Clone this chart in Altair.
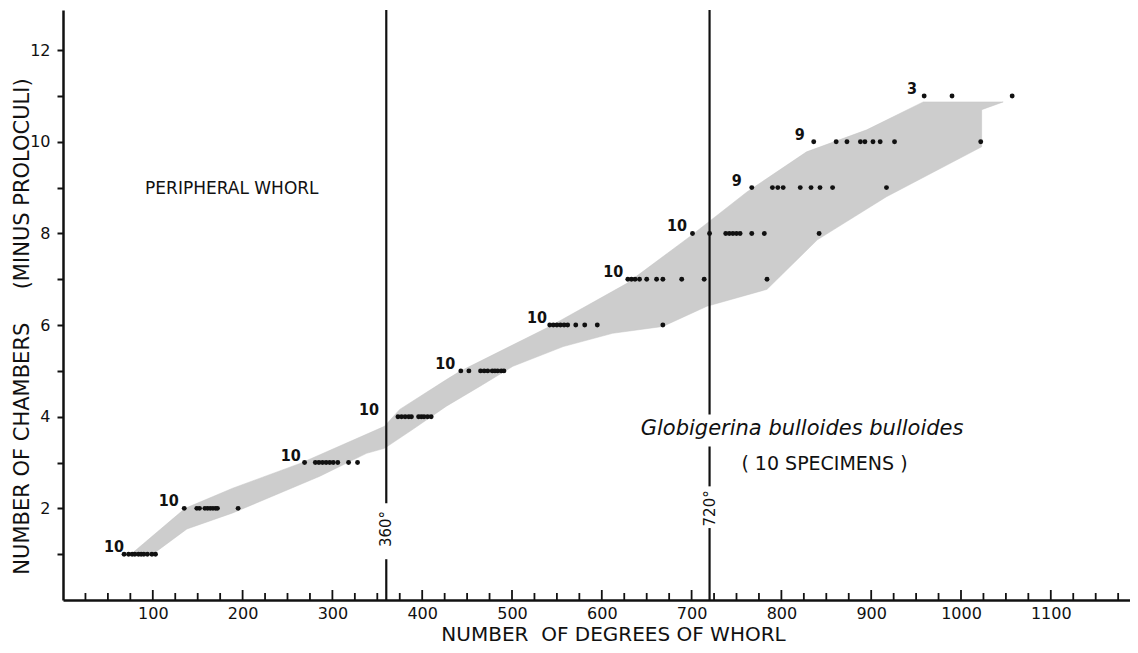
import altair as alt
import pandas as pd

# ---------------- data ----------------
chambers = [1, 2, 3, 4, 5, 6, 7, 8, 9, 10, 11]
row_degrees = [
    [68, 73, 77, 80, 84, 87, 90, 94, 99, 103],
    [135, 149, 152, 158, 161, 164, 167, 170, 172, 195],
    [269, 281, 285, 289, 293, 297, 301, 306, 318, 328],
    [373, 377, 381, 385, 388, 396, 399, 402, 406, 410],
    [443, 452, 465, 469, 473, 478, 481, 484, 488, 491],
    [542, 546, 550, 554, 558, 562, 571, 581, 595, 668],
    [629, 633, 637, 642, 650, 661, 668, 689, 714, 784],
    [701, 720, 738, 742, 746, 750, 754, 767, 781, 842],
    [767, 790, 796, 802, 821, 833, 843, 857, 917],
    [836, 861, 873, 888, 893, 902, 910, 926, 1022],
    [959, 990, 1057],
]
label_counts = ["10", "10", "10", "10", "10", "10", "10", "10", "9", "9", "3"]
label_degree = [69, 130, 266, 353, 438, 540, 625, 696, 757, 827, 952]

band_degree = [77, 136, 189, 264, 358, 375, 427, 442, 542, 628, 698, 762, 828, 895,
               958, 1047, 1023, 1023,
               917, 840, 784, 717, 668, 612, 557, 501, 464, 427, 390, 358, 338, 286,
               189, 138, 100]
band_chambers = [1.02, 2.00, 2.44, 2.98, 3.79, 4.16, 4.81, 4.99, 5.97, 6.91, 7.93, 8.91, 9.78, 10.26,
                 10.87, 10.87, 10.70, 9.89,
                 8.80, 7.86, 6.78, 6.41, 5.97, 5.82, 5.53, 5.10, 4.66, 4.23, 3.73, 3.31, 3.20, 2.70,
                 1.90, 1.55, 1.00]

whorl_line_degree = [360, 360, 720, 720, 720]
whorl_line_from = [0, 2.11, 0, 2.48, 4.05]
whorl_line_to = [0.89, 12.876, 1.57, 3.35, 12.876]
whorl_label_text = ["360°", "720°"]
whorl_label_degree = [360, 720]
whorl_label_chambers = [1.55, 2.0]

x_label_values = [100, 200, 300, 400, 500, 600, 700, 800, 900, 1000, 1100]
x_minor_ticks = [v for v in range(25, 1200, 25) if v % 100 != 0]
x_major_ticks = [v for v in range(100, 1200, 100)]
y_tick_values = [1, 2, 3, 4, 5, 6, 7, 8, 9, 10, 11, 12]

# ---------------- tables ----------------
pts = pd.DataFrame(
    [{"deg": d, "n": n} for n, ds in zip(chambers, row_degrees) for d in ds]
)
labels = pd.DataFrame({"deg": label_degree, "n": chambers, "t": label_counts})
band = pd.DataFrame({"deg": band_degree, "n": band_chambers, "i": list(range(len(band_degree)))})
vlines = pd.DataFrame({"deg": whorl_line_degree, "n": whorl_line_from, "n2": whorl_line_to})
vlabels = pd.DataFrame({"deg": whorl_label_degree, "n": whorl_label_chambers, "t": whorl_label_text})
minor = pd.DataFrame({"deg": x_minor_ticks})
major = pd.DataFrame({"deg": x_major_ticks})

FONT = "DejaVu Sans"
COND = "'DejaVu Sans Condensed', 'Liberation Sans', sans-serif"
INK = "#111111"
PLOT_H = 590

xscale = alt.Scale(domain=[0, 1188.2], nice=False, zero=False)
yscale = alt.Scale(domain=[0, 12.876], nice=False, zero=False)

x_enc = alt.X(
    "deg:Q", scale=xscale,
    axis=alt.Axis(
        values=x_label_values, format="d", ticks=True, tickSize=0, grid=False,
        domainColor=INK, domainWidth=2.5, labelColor=INK, labelFont=FONT,
        labelFontSize=16, labelPadding=5,
        title="NUMBER\u00a0 OF DEGREES OF WHORL", titleFont=FONT, titleFontSize=20,
        titleFontWeight="normal", titleColor=INK, titleX=550, titleY=40.3,
        titleBaseline="alphabetic", titleAlign="center",
    ),
)
y_enc = alt.Y(
    "n:Q", scale=yscale,
    axis=alt.Axis(
        values=y_tick_values, labelExpr="datum.value % 2 === 0 ? datum.label : ''",
        tickSize=6, tickWidth=2, tickColor=INK, grid=False,
        domainColor=INK, domainWidth=2.5, labelColor=INK, labelFont=FONT,
        labelFontSize=16, labelPadding=7,
        title="NUMBER OF CHAMBERS" + "\u00a0" * 5 + "(MINUS PROLOCULI)",
        titleFont=FONT, titleFontSize=21, titleFontWeight="normal", titleColor=INK,
        titleX=-35, titleY=316, titleAngle=270, titleBaseline="alphabetic",
        titleAlign="center",
    ),
)

band_layer = alt.Chart(band).mark_line(
    fill="#cdcdcd", stroke="#c4c4c4", strokeWidth=0.5
).encode(x=x_enc, y=y_enc, order="i:Q")

vline_layer = alt.Chart(vlines).mark_rule(color=INK, strokeWidth=2.2).encode(
    x=x_enc, y=y_enc, y2="n2:Q"
)

minor_layer = alt.Chart(minor).mark_rule(color=INK, strokeWidth=1.8).encode(
    x=x_enc, y=alt.value(PLOT_H), y2=alt.value(PLOT_H - 7)
)
major_layer = alt.Chart(major).mark_rule(color=INK, strokeWidth=1.8).encode(
    x=x_enc, y=alt.value(PLOT_H), y2=alt.value(PLOT_H - 10)
)

pt_layer = alt.Chart(pts).mark_circle(size=24, color=INK, opacity=1).encode(x=x_enc, y=y_enc)

lab_layer = alt.Chart(labels).mark_text(
    font=COND, fontWeight="bold", fontSize=16, color=INK,
    align="right", baseline="alphabetic", dx=-1, dy=-2,
).encode(x=x_enc, y=y_enc, text="t:N")

vlab_layer = alt.Chart(vlabels).mark_text(
    font=FONT, fontSize=15, color=INK, angle=270, align="center", baseline="middle",
).encode(x=x_enc, y=y_enc, text="t:N")

note_peripheral = alt.Chart(pd.DataFrame({"deg": [188], "n": [8.98], "t": ["PERIPHERAL  WHORL"]})).mark_text(
    font=FONT, fontSize=17, color=INK, align="center", baseline="middle"
).encode(x=x_enc, y=y_enc, text="t:N")

note_species = alt.Chart(pd.DataFrame({"deg": [823], "n": [3.73], "t": ["Globigerina bulloides  bulloides"]})).mark_text(
    font=FONT, fontSize=21, fontStyle="italic", color=INK, align="center", baseline="middle"
).encode(x=x_enc, y=y_enc, text="t:N")

note_count = alt.Chart(pd.DataFrame({"deg": [848], "n": [2.96], "t": ["( 10 SPECIMENS )"]})).mark_text(
    font=FONT, fontSize=19, color=INK, align="center", baseline="middle"
).encode(x=x_enc, y=y_enc, text="t:N")

chart = alt.layer(
    band_layer, vline_layer, minor_layer, major_layer, pt_layer, lab_layer, vlab_layer,
    note_peripheral, note_species, note_count,
).properties(
    width=1067, height=PLOT_H, autosize="none",
    padding={"left": 55, "top": 2, "right": 0, "bottom": 45},
    background="white",
).configure_view(stroke=None)

chart.save("out.html", embed_options={"renderer": "svg", "actions": False})
